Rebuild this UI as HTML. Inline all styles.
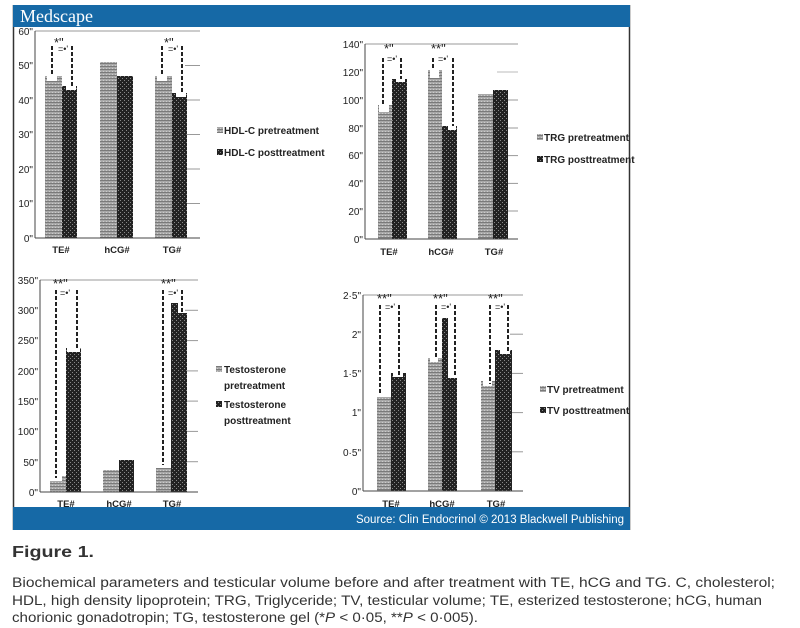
<!DOCTYPE html>
<html><head><meta charset="utf-8"><style>
html,body{margin:0;padding:0;background:#fff;width:800px;height:628px;overflow:hidden}
svg{display:block}
text{font-family:"Liberation Sans",Arial,sans-serif}
</style></head><body>
<svg width="800" height="628" viewBox="0 0 800 628">
<defs>
<pattern id="pre" width="3" height="3" patternUnits="userSpaceOnUse">
<rect width="3" height="3" fill="#a8a8a8"/><rect y="0" width="3" height="1" fill="#7a7a7a"/><rect x="1" y="2" width="1" height="1" fill="#ccc"/></pattern>
<pattern id="post" width="4" height="4" patternUnits="userSpaceOnUse">
<rect width="4" height="4" fill="#222"/><rect x="0" y="0" width="1" height="1" fill="#888"/><rect x="2" y="2" width="1" height="1" fill="#888"/></pattern>
</defs>
<rect x="13" y="5" width="617" height="525" fill="#fff"/>
<line x1="13.5" y1="5" x2="13.5" y2="530" stroke="#333" stroke-width="1.5"/>
<line x1="629.5" y1="5" x2="629.5" y2="530" stroke="#333" stroke-width="1.5"/>
<rect x="13" y="5" width="617" height="22" fill="#1669a6"/>
<text x="20" y="22" font-size="18" fill="#fff" style="font-family:'Liberation Serif',serif">Medscape</text>
<rect x="13" y="507" width="617" height="23" fill="#1669a6"/>
<text x="624" y="523" font-size="11.5" fill="#fff" text-anchor="end">Source: Clin Endocrinol © 2013 Blackwell Publishing</text>

<g font-size="10" fill="#222">
<!-- Chart1 HDL -->
<line x1="35" y1="31" x2="200" y2="31" stroke="#999"/>
<g stroke="#999"><line x1="185" y1="65.5" x2="200" y2="65.5"/><line x1="185" y1="100" x2="200" y2="100"/><line x1="185" y1="134.5" x2="200" y2="134.5"/><line x1="185" y1="169" x2="200" y2="169"/><line x1="185" y1="203.5" x2="200" y2="203.5"/></g>
<g text-anchor="end"><text x="33" y="35">60"</text><text x="33" y="69">50"</text><text x="33" y="104">40"</text><text x="33" y="138">30"</text><text x="33" y="173">20"</text><text x="33" y="207">10"</text><text x="33" y="242">0"</text></g>
<rect x="45" y="76" width="17" height="162" fill="url(#pre)"/><rect x="62" y="86" width="15" height="152" fill="url(#post)"/>
<rect x="100" y="62" width="17" height="176" fill="url(#pre)"/><rect x="117" y="76" width="16" height="162" fill="url(#post)"/>
<rect x="155" y="76" width="17" height="162" fill="url(#pre)"/><rect x="172" y="93" width="15" height="145" fill="url(#post)"/>
<g stroke="#222" stroke-width="2" stroke-dasharray="4,2"><line x1="52" y1="46" x2="52" y2="76"/><line x1="72" y1="46" x2="72" y2="86"/><line x1="162" y1="46" x2="162" y2="76"/><line x1="182" y1="46" x2="182" y2="93"/></g>
<rect x="47" y="76" width="10" height="5" fill="#fff"/><rect x="66" y="86" width="10" height="4" fill="#fff"/><rect x="157" y="76" width="10" height="5" fill="#fff"/><rect x="176" y="93" width="10" height="4" fill="#fff"/>
<text x="54" y="47" font-size="13">*"</text><text x="58" y="52" font-size="9">=•'</text><text x="164" y="47" font-size="13">*"</text><text x="168" y="52" font-size="9">=•'</text>
<line x1="35" y1="31" x2="35" y2="238" stroke="#444"/><line x1="35" y1="238" x2="200" y2="238" stroke="#444"/>
<g font-weight="bold" font-size="9.5" text-anchor="middle"><text x="61" y="253">TE#</text><text x="117" y="253">hCG#</text><text x="172" y="253">TG#</text></g>
<g font-weight="bold" font-size="10"><rect x="217" y="127" width="6" height="6" fill="url(#pre)"/><text x="224" y="134">HDL-C pretreatment</text><rect x="217" y="149" width="6" height="6" fill="url(#post)"/><text x="224" y="156">HDL-C posttreatment</text></g>

<!-- Chart2 TRG -->
<line x1="365" y1="44" x2="518" y2="44" stroke="#999"/>
<line x1="497" y1="72" x2="518" y2="72" stroke="#bbb"/>
<g stroke="#999"><line x1="505" y1="100" x2="518" y2="100"/><line x1="505" y1="128" x2="518" y2="128"/><line x1="505" y1="155.6" x2="518" y2="155.6"/><line x1="505" y1="183.4" x2="518" y2="183.4"/><line x1="505" y1="211" x2="518" y2="211"/></g>
<g text-anchor="end"><text x="363" y="48">140"</text><text x="363" y="76">120"</text><text x="363" y="104">100"</text><text x="363" y="132">80"</text><text x="363" y="159">60"</text><text x="363" y="187">40"</text><text x="363" y="215">20"</text><text x="363" y="243">0"</text></g>
<rect x="378" y="105" width="14" height="134" fill="url(#pre)"/><rect x="392" y="79" width="15" height="160" fill="url(#post)"/>
<rect x="428" y="70" width="14" height="169" fill="url(#pre)"/><rect x="442" y="126" width="15" height="113" fill="url(#post)"/>
<rect x="478" y="94" width="15" height="145" fill="url(#pre)"/><rect x="493" y="90" width="15" height="149" fill="url(#post)"/>
<g stroke="#222" stroke-width="2" stroke-dasharray="4,2"><line x1="383" y1="58" x2="383" y2="112"/><line x1="401" y1="58" x2="401" y2="82"/><line x1="433" y1="58" x2="433" y2="72"/><line x1="453" y1="58" x2="453" y2="130"/></g>
<rect x="379" y="105" width="10" height="7" fill="#fff"/><rect x="396" y="79" width="9" height="3" fill="#fff"/><rect x="430" y="70" width="9" height="8" fill="#fff"/><rect x="448" y="126" width="8" height="4" fill="#fff"/>
<text x="384" y="53" font-size="13">*"</text><text x="387" y="62" font-size="9">=•'</text><text x="431" y="53" font-size="13">**"</text><text x="438" y="62" font-size="9">=•'</text>
<line x1="365" y1="44" x2="365" y2="239" stroke="#444"/><line x1="365" y1="239" x2="518" y2="239" stroke="#444"/>
<g font-weight="bold" font-size="9.5" text-anchor="middle"><text x="389" y="255">TE#</text><text x="441" y="255">hCG#</text><text x="494" y="255">TG#</text></g>
<g font-weight="bold" font-size="10"><rect x="537" y="134" width="6" height="6" fill="url(#pre)"/><text x="544" y="141">TRG pretreatment</text><rect x="537" y="156" width="6" height="6" fill="url(#post)"/><text x="544" y="163">TRG posttreatment</text></g>

<!-- Chart3 Testosterone -->
<line x1="40" y1="280" x2="198" y2="280" stroke="#999"/>
<g stroke="#999"><line x1="185" y1="310.3" x2="198" y2="310.3"/><line x1="185" y1="340.6" x2="198" y2="340.6"/><line x1="185" y1="370.9" x2="198" y2="370.9"/><line x1="185" y1="401.1" x2="198" y2="401.1"/><line x1="185" y1="431.4" x2="198" y2="431.4"/><line x1="185" y1="461.7" x2="198" y2="461.7"/></g>
<g text-anchor="end"><text x="38" y="284">350"</text><text x="38" y="314">300"</text><text x="38" y="344">250"</text><text x="38" y="375">200"</text><text x="38" y="405">150"</text><text x="38" y="435">100"</text><text x="38" y="466">50"</text><text x="38" y="496">0"</text></g>
<rect x="50" y="481" width="12" height="11" fill="url(#pre)"/><rect x="62" y="476" width="4" height="16" fill="url(#pre)"/><rect x="66" y="348" width="15" height="144" fill="url(#post)"/>
<rect x="103" y="470" width="16" height="22" fill="url(#pre)"/><rect x="119" y="460" width="15" height="32" fill="url(#post)"/>
<rect x="156" y="468" width="15" height="24" fill="url(#pre)"/><rect x="171" y="303" width="7" height="189" fill="url(#post)"/><rect x="178" y="313" width="9" height="179" fill="url(#post)"/>
<rect x="67" y="348" width="13" height="4" fill="#fff"/>
<g stroke="#222" stroke-width="2" stroke-dasharray="4,2"><line x1="56" y1="290" x2="56" y2="478"/><line x1="77" y1="290" x2="77" y2="350"/><line x1="163" y1="290" x2="163" y2="465"/><line x1="182" y1="290" x2="182" y2="312"/></g>
<text x="53" y="288" font-size="13">**"</text><text x="60" y="296" font-size="9">=•'</text><text x="161" y="288" font-size="13">**"</text><text x="168" y="296" font-size="9">=•'</text>
<line x1="40" y1="280" x2="40" y2="492" stroke="#444"/><line x1="40" y1="492" x2="198" y2="492" stroke="#444"/>
<g font-weight="bold" font-size="9.5" text-anchor="middle"><text x="66" y="507">TE#</text><text x="119" y="507">hCG#</text><text x="172" y="507">TG#</text></g>
<g font-weight="bold" font-size="10"><rect x="216" y="366" width="6" height="6" fill="url(#pre)"/><text x="224" y="373">Testosterone</text><text x="224" y="389">pretreatment</text><rect x="216" y="401" width="6" height="6" fill="url(#post)"/><text x="224" y="408">Testosterone</text><text x="224" y="424">posttreatment</text></g>

<!-- Chart4 TV -->
<line x1="363" y1="295" x2="523" y2="295" stroke="#999"/>
<g stroke="#999"><line x1="510" y1="334.2" x2="523" y2="334.2"/><line x1="510" y1="373.4" x2="523" y2="373.4"/><line x1="510" y1="412.6" x2="523" y2="412.6"/><line x1="510" y1="451.8" x2="523" y2="451.8"/></g>
<g text-anchor="end"><text x="361" y="299">2·5"</text><text x="361" y="338">2"</text><text x="361" y="377">1·5"</text><text x="361" y="416">1"</text><text x="361" y="456">0·5"</text><text x="361" y="495">0"</text></g>
<rect x="377" y="397" width="14" height="94" fill="url(#pre)"/><rect x="391" y="373" width="15" height="118" fill="url(#post)"/>
<rect x="428" y="358" width="14" height="133" fill="url(#pre)"/><rect x="442" y="318" width="6" height="173" fill="url(#post)"/><rect x="448" y="378" width="9" height="113" fill="url(#post)"/>
<rect x="481" y="381" width="14" height="110" fill="url(#pre)"/><rect x="495" y="350" width="17" height="141" fill="url(#post)"/>
<rect x="393" y="373" width="10" height="4" fill="#fff"/><rect x="430" y="358" width="8" height="4" fill="#fff"/><rect x="483" y="381" width="9" height="5" fill="#fff"/><rect x="500" y="350" width="10" height="4" fill="#fff"/>
<g stroke="#222" stroke-width="2" stroke-dasharray="4,2"><line x1="380" y1="305" x2="380" y2="395"/><line x1="399" y1="305" x2="399" y2="375"/><line x1="436" y1="305" x2="436" y2="358"/><line x1="455" y1="305" x2="455" y2="376"/><line x1="490" y1="305" x2="490" y2="384"/><line x1="508" y1="305" x2="508" y2="352"/></g>
<text x="377" y="303" font-size="13">**"</text><text x="385" y="310" font-size="9">=•'</text><text x="433" y="303" font-size="13">**"</text><text x="441" y="310" font-size="9">=•'</text><text x="488" y="303" font-size="13">**"</text><text x="495" y="310" font-size="9">=•'</text>
<line x1="363" y1="295" x2="363" y2="491" stroke="#444"/><line x1="363" y1="491" x2="523" y2="491" stroke="#444"/>
<g font-weight="bold" font-size="9.5" text-anchor="middle"><text x="391" y="507">TE#</text><text x="442" y="507">hCG#</text><text x="496" y="507">TG#</text></g>
<g font-weight="bold" font-size="10"><rect x="540" y="386" width="6" height="6" fill="url(#pre)"/><text x="547" y="393">TV pretreatment</text><rect x="540" y="407" width="6" height="6" fill="url(#post)"/><text x="547" y="414">TV posttreatment</text></g>
</g>

<text x="12" y="557" font-size="16" font-weight="bold" fill="#333" textLength="82" lengthAdjust="spacingAndGlyphs">Figure 1.</text>
<g font-size="13.5" fill="#333">
<text x="12" y="587" textLength="763" lengthAdjust="spacingAndGlyphs">Biochemical parameters and testicular volume before and after treatment with TE, hCG and TG. C, cholesterol;</text>
<text x="12" y="605" textLength="750" lengthAdjust="spacingAndGlyphs">HDL, high density lipoprotein; TRG, Triglyceride; TV, testicular volume; TE, esterized testosterone; hCG, human</text>
<text x="12" y="622" textLength="466" lengthAdjust="spacingAndGlyphs">chorionic gonadotropin; TG, testosterone gel (*<tspan font-style="italic">P</tspan> &lt; 0·05, **<tspan font-style="italic">P</tspan> &lt; 0·005).</text>
</g>
</svg>
</body></html>
